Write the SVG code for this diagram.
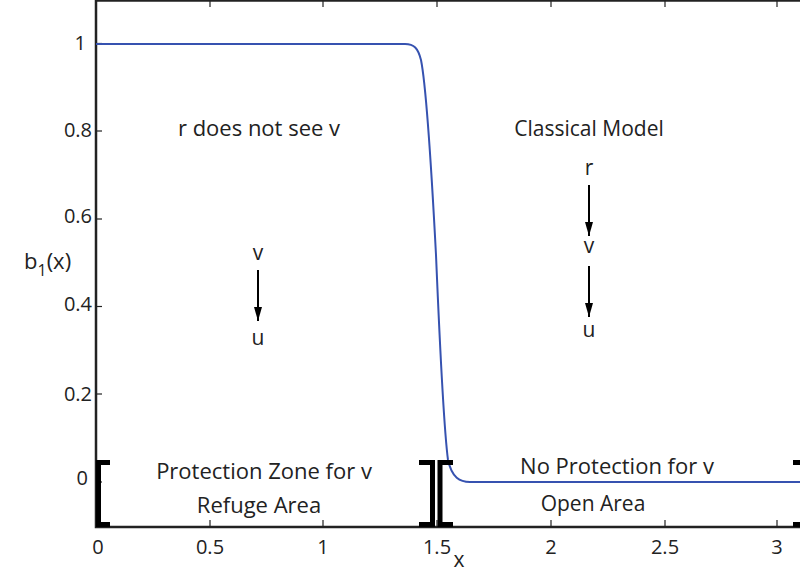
<svg xmlns="http://www.w3.org/2000/svg" width="800" height="575" viewBox="0 0 800 575">
<defs>
<style>
text{font-family:"Open Sans","Liberation Sans",sans-serif;fill:#222;}
.t{font-size:21px;text-anchor:middle;}
.w{font-size:22px;}
.tk{font-size:20px;}
.xt{text-anchor:middle;}
.yt{text-anchor:end;}
.ax{stroke:#222;stroke-width:2.5;fill:none;}
.tick{stroke:#222;stroke-width:1.2;}
.br{stroke:#000;stroke-width:5;fill:none;stroke-linecap:butt;}
.arr{stroke:#000;stroke-width:2;marker-end:url(#ah);}
</style>
<marker id="ah" viewBox="0 0 14 8" refX="14" refY="4" markerWidth="14" markerHeight="8" markerUnits="userSpaceOnUse" orient="auto" overflow="visible">
<path d="M0,0 L14,4 L0,8 Z" fill="#000"/>
</marker>
</defs>
<rect width="800" height="575" fill="#fff"/>
<g id="axes">
<path class="ax" d="M96,0 L96,527 L800,527"/>
<line class="ax" x1="96" y1="0.5" x2="800" y2="0.5"/>
<g class="tick">
<line x1="210" y1="527" x2="210" y2="520"/><line x1="323" y1="527" x2="323" y2="520"/><line x1="437" y1="527" x2="437" y2="520"/><line x1="551" y1="527" x2="551" y2="520"/><line x1="665" y1="527" x2="665" y2="520"/><line x1="777" y1="527" x2="777" y2="520"/>
<line x1="210" y1="0" x2="210" y2="7"/><line x1="323" y1="0" x2="323" y2="7"/><line x1="437" y1="0" x2="437" y2="7"/><line x1="551" y1="0" x2="551" y2="7"/><line x1="665" y1="0" x2="665" y2="7"/><line x1="777" y1="0" x2="777" y2="7"/>
<line x1="96" y1="482" x2="102" y2="482"/><line x1="96" y1="394" x2="102" y2="394"/><line x1="96" y1="306.5" x2="102" y2="306.5"/><line x1="96" y1="219" x2="102" y2="219"/><line x1="96" y1="131" x2="102" y2="131"/><line x1="96" y1="43.5" x2="102" y2="43.5"/>
</g>
<g class="tk xt">
<text x="98" y="554">0</text><text x="210" y="554">0.5</text><text x="323" y="554">1</text><text x="437" y="554">1.5</text><text x="551" y="554">2</text><text x="665" y="554">2.5</text><text x="777" y="554">3</text>
</g>
<g class="tk yt">
<text x="88" y="485">0</text><text x="92" y="401">0.2</text><text x="92" y="311">0.4</text><text x="92" y="223">0.6</text><text x="92" y="137">0.8</text><text x="86" y="50">1</text>
</g>
<text class="t" x="459" y="567">x</text>
<text x="24" y="269" style="font-size:22px">b<tspan dy="7" style="font-size:16px">1</tspan><tspan dy="-7">(x)</tspan></text>
</g>
<g id="curve">
<path d="M96,44 L405,44 C414,44 418,48 421,60 C426,85 431,160 436,255 C440,350 444,430 448,460 C452,478 460,482 470,482 L800,482" fill="none" stroke="#3652b0" stroke-width="2"/>
</g>
<g id="brackets">
<path class="br" d="M110,462.5 L98.5,462.5 L98.5,524.5 L110,524.5"/>
<path class="br" d="M419,462.5 L432.5,462.5 L432.5,524.5 L419,524.5"/>
<path class="br" d="M453,462.5 L440,462.5 L440,524.5 L453,524.5"/>
<path class="br" d="M793,462.5 L803,462.5 L803,524.5 L793,524.5"/>
</g>
<g id="node-left-title"><text class="t w" x="259" y="136">r does not see v</text></g>
<g id="node-right-title"><text class="t" x="589" y="136">Classical Model</text></g>
<g id="node-zone"><text class="t w" x="264" y="479">Protection Zone for v</text><text class="t w" x="259" y="513">Refuge Area</text></g>
<g id="node-noprot"><text class="t w" x="617" y="474">No Protection for v</text><text class="t" x="593" y="511">Open Area</text></g>
<g id="node-lv"><text class="t" x="258" y="260">v</text></g>
<g id="node-lu"><text class="t" x="258" y="345">u</text></g>
<g id="node-rr"><text class="t" x="589" y="175">r</text></g>
<g id="node-rv"><text class="t" x="589" y="253">v</text></g>
<g id="node-ru"><text class="t" x="589" y="337">u</text></g>
<g id="connectors">
<line class="arr" x1="258" y1="270" x2="258" y2="321"/>
<line class="arr" x1="589" y1="185" x2="589" y2="236"/>
<line class="arr" x1="589" y1="266" x2="589" y2="317"/>
</g>
</svg>
